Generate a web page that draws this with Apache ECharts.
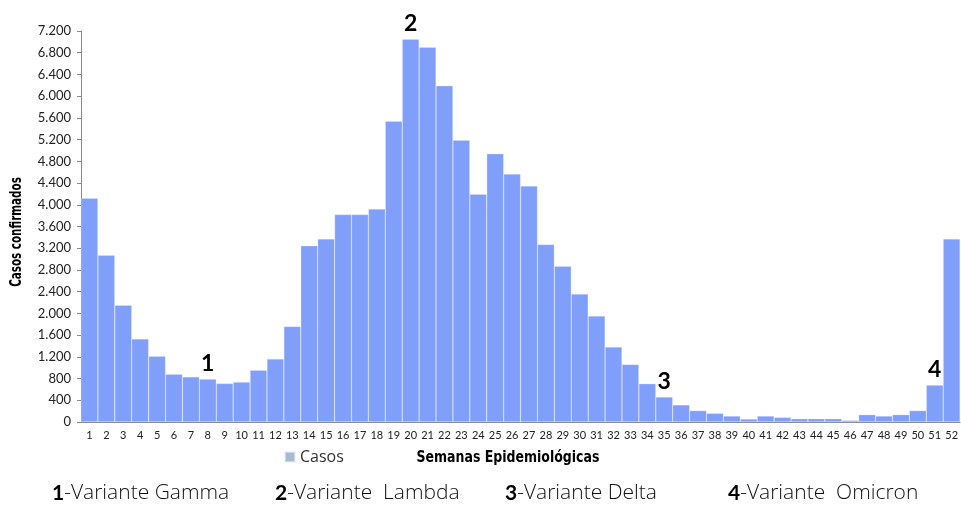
<!DOCTYPE html>
<html>
<head>
<meta charset="utf-8">
<script src="https://cdn.jsdelivr.net/npm/echarts@6/dist/echarts.min.js"></script>
<style>
  html, body { margin: 0; padding: 0; background: #fff; }
  #main { width: 961px; height: 508px; }
</style>
</head>
<body>
<div id="main"></div>
<script>
// semanas epidemiológicas 1..52
const semanas = []
for (let i = 1; i <= 52; i++) semanas.push(String(i))
// casos confirmados por semana
const casos = [
  4120, 3070, 2150, 1530, 1210, 880, 830, 790, 710, 735,
  955, 1160, 1760, 3245, 3370, 3820, 3820, 3920, 5540, 7050,
  6900, 6190, 5190, 4195, 4940, 4565, 4345, 3270, 2870, 2355,
  1950, 1380, 1060, 705, 460, 315, 210, 160, 110, 55,
  110, 85, 60, 60, 60, 30, 135, 110, 135, 210,
  680, 3370
]
// marcas de variantes: índice de la semana -> número
const marcas = { 7: '1', 19: '2', 34: '3', 50: '4' }
const variantes = ['Variante Gamma', 'Variante  Lambda', 'Variante Delta', 'Variante  Omicron']
const variantesX = [52, 275, 505, 728]

let barColor = '#809ffa'
let fontMain = 'Lato, "Open Sans", sans-serif'
let fontWide = '"Open Sans", Lato, sans-serif'
let fontCond = '"DejaVu Sans Condensed", "DejaVu Sans", sans-serif'

const chart = echarts.init(document.getElementById('main'), null, { renderer: 'canvas' })

const seriesData = casos.map((v, i) => {
  if (marcas[i] === undefined) return v
  return {
    value: v,
    label: {
      show: true,
      position: 'top',
      distance: 4,
      formatter: marcas[i],
      color: '#000',
      fontSize: 23,
      fontWeight: 'bold',
      fontFamily: fontMain
    }
  }
})

// títulos de ejes como texto condensado
const titulos = [
  { type: 'text', x: 508, y: 458, scaleX: 0.87,
    style: { text: 'Semanas Epidemiológicas', align: 'center', verticalAlign: 'middle',
      fontSize: 16, fontWeight: 'bold', fill: '#000', fontFamily: fontCond } },
  { type: 'text', x: 17, y: 232, rotation: Math.PI / 2, scaleX: 0.72,
    style: { text: 'Casos confirmados', align: 'center', verticalAlign: 'middle',
      fontSize: 16, fontWeight: 'bold', fill: '#000', fontFamily: fontCond } }
]

const option = {
  animation: false,
  grid: { left: 81, right: 0, top: 31, bottom: 86, containLabel: false },
  legend: {
    left: 279,
    top: 444,
    itemWidth: 10,
    itemHeight: 10,
    itemGap: 6,
    textStyle: { fontSize: 16, color: '#333', fontFamily: fontWide },
    data: [{ name: 'Casos', icon: 'rect', itemStyle: { color: '#a9b9d0' } }]
  },
  xAxis: {
    type: 'category',
    data: semanas,
    axisLine: { lineStyle: { color: '#888' } },
    axisTick: { alignWithLabel: false, length: 4, lineStyle: { color: '#888' } },
    axisLabel: { interval: 0, fontSize: 11, color: '#222', fontFamily: fontMain, margin: 8 }
  },
  yAxis: {
    type: 'value',
    min: 0,
    max: 7200,
    interval: 400,
    axisLine: { show: true, lineStyle: { color: '#888' } },
    axisTick: { show: true, length: 4, lineStyle: { color: '#888' } },
    splitLine: { show: false },
    axisLabel: {
      fontSize: 13,
      color: '#222',
      fontFamily: fontMain,
      margin: 10,
      formatter: v => String(v).replace(/\B(?=(\d{3})+(?!\d))/g, '.')
    }
  },
  series: [{
    name: 'Casos',
    type: 'bar',
    barCategoryGap: '0%',
    itemStyle: { color: barColor, borderColor: 'rgba(230,236,255,0.6)', borderWidth: 0.5 },
    data: seriesData
  }],
  graphic: titulos.concat(variantes.map((t, i) => ({
    type: 'text',
    left: variantesX[i],
    top: 483,
    style: {
      text: '{b|' + (i + 1) + '}{n|-' + t + '}',
      rich: {
        b: { fontSize: 21, fontWeight: 'bold', fill: '#000', fontFamily: fontMain },
        n: { fontSize: 21, fontWeight: 300, fill: '#111', fontFamily: fontWide }
      }
    }
  })))
}

chart.setOption(option)
</script>
</body>
</html>
